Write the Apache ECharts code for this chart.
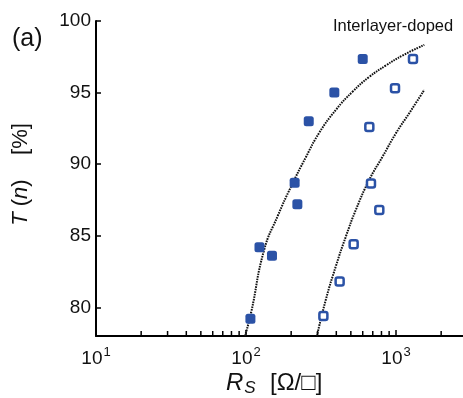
<!DOCTYPE html>
<html>
<head>
<meta charset="utf-8">
<script src="https://cdn.jsdelivr.net/npm/echarts@6/dist/echarts.min.js"></script>
<style>
html,body{margin:0;padding:0;background:#fff;}
#c{width:463px;height:398px;}
</style>
</head>
<body>
<div id="c"></div>
<script>
// Filled squares (Rs [ohm/sq], T [%])
const filledRs = [107, 123, 149, 211, 220, 262, 388, 600];
const filledT  = [79.2, 84.2, 83.6, 88.7, 87.2, 93.0, 95.0, 97.35];
// Open squares
const openRs = [328, 421, 522, 664, 681, 774, 985, 1298];
const openT  = [79.4, 81.8, 84.4, 92.6, 88.65, 86.8, 95.3, 97.35];
// Dotted fit curves
const fit1Rs = [98.5, 108, 132, 163, 200, 251, 308, 398, 514, 664, 858, 1109, 1544];
const fit1T  = [78.0, 79.6, 84.0, 86.4, 88.45, 90.5, 92.2, 93.8, 95.07, 96.1, 96.9, 97.6, 98.33];
const fit2Rs = [297, 341, 398, 464, 541, 664, 815, 1000, 1227, 1544];
const fit2T  = [78.0, 80.56, 82.9, 84.97, 86.83, 88.92, 90.54, 92.17, 93.57, 95.19];
// Axis ticks
const yTicks = [80, 85, 90, 95, 100];
const xMinorTicks = [20,30,40,50,60,70,80,90,200,300,400,500,600,700,800,900,2000,3000,4000,5000,6000,7000,8000,9000];
const yMin = 78, yMax = 100;

const zip = (a, b) => a.map((v, i) => [v, b[i]]);
const blue = '#2b52a6';
const font = 'Liberation Sans, Arial, sans-serif';

const chart = echarts.init(document.getElementById('c'), null, {renderer: 'canvas'});
chart.setOption({
  animation: false,
  backgroundColor: '#fff',
  grid: {left: 96, top: 21, width: 450, height: 315, containLabel: false, outerBoundsMode: 'none'},
  xAxis: {
    type: 'log', logBase: 10, min: 10, max: 10000,
    axisLine: {lineStyle: {color: '#000', width: 2}},
    axisTick: {inside: true, length: 6, lineStyle: {color: '#000', width: 1.5}},
    splitLine: {show: false},
    axisLabel: {
      margin: 10, color: '#111', fontFamily: font, fontSize: 19,
      formatter: v => '{b|10}{s|' + Math.round(Math.log10(v)) + '}',
      rich: {
        b: {fontSize: 19, fontFamily: font, color: '#111'},
        s: {fontSize: 13, fontFamily: font, color: '#111', padding: [0, 0, 12, 1]}
      }
    }
  },
  yAxis: {
    type: 'value', min: yMin, max: yMax,
    axisLine: {lineStyle: {color: '#000', width: 2}},
    axisTick: {inside: true, length: 5, customValues: yTicks, lineStyle: {color: '#000', width: 1.5}},
    splitLine: {show: false},
    axisLabel: {customValues: yTicks, margin: 5, color: '#111', fontFamily: font, fontSize: 19},
    name: '{i|T} ({i|n})    [%]',
    nameLocation: 'middle', nameRotate: 90, nameGap: 64,
    nameTextStyle: {
      fontSize: 22, fontFamily: font, color: '#111', padding: [0, 0, 0, 8],
      rich: {i: {fontSize: 22, fontFamily: font, fontStyle: 'italic', color: '#111'}}
    }
  },
  graphic: [
    {type: 'text', left: 12, top: 27, style: {text: '(a)', fontSize: 25, fontFamily: font, fill: '#111'}},
    {type: 'text', left: 333, top: 18, style: {text: 'Interlayer-doped', fontSize: 16.5, fontFamily: font, fill: '#111'}},
    {type: 'text', left: 226, top: 371, style: {
      text: '{i|R}{s|S}  [Ω/□]', fontSize: 24, fontFamily: font, fill: '#111',
      rich: {
        i: {fontSize: 24, fontStyle: 'italic', fontFamily: font, fill: '#111'},
        s: {fontSize: 17, fontStyle: 'italic', fontFamily: font, fill: '#111', padding: [10, 1, 0, 1]}
      }
    }}
  ],
  series: [
    {
      type: 'custom', silent: true, z: 1,
      data: xMinorTicks.map(v => [v, yMin]),
      renderItem: (params, api) => {
        const p = api.coord([api.value(0), api.value(1)]);
        return {type: 'line', shape: {x1: p[0], y1: p[1] - 1, x2: p[0], y2: p[1] - 5}, style: {stroke: '#000', lineWidth: 1.5}};
      }
    },
    {
      type: 'line', data: zip(fit1Rs, fit1T), smooth: true, symbol: 'none',
      lineStyle: {type: [1.6, 1], width: 2, color: '#111'}, z: 2
    },
    {
      type: 'line', data: zip(fit2Rs, fit2T), smooth: true, symbol: 'none',
      lineStyle: {type: [1.6, 1], width: 2, color: '#111'}, z: 2
    },
    {
      type: 'scatter', data: zip(filledRs, filledT), symbol: 'roundRect', symbolSize: 10,
      itemStyle: {color: blue, opacity: 1}, z: 3
    },
    {
      type: 'scatter', data: zip(openRs, openT), symbol: 'roundRect', symbolSize: 8,
      itemStyle: {color: '#fff', borderColor: blue, borderWidth: 2.5, opacity: 1}, z: 3
    }
  ]
});
</script>
</body>
</html>
